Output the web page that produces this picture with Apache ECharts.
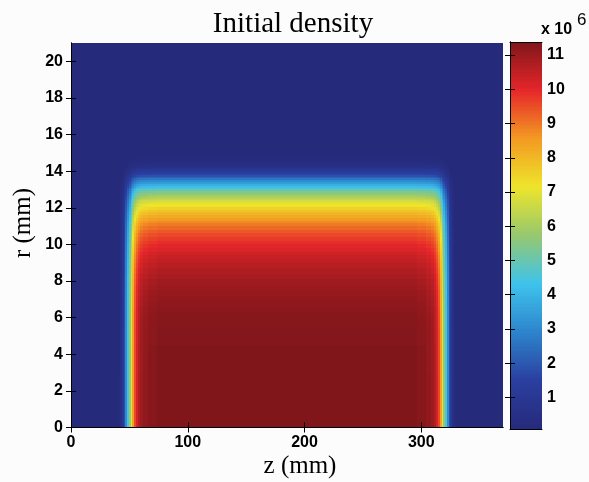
<!DOCTYPE html>
<html><head><meta charset="utf-8">
<script src="https://cdn.jsdelivr.net/npm/echarts@6/dist/echarts.min.js"></script>
<style>html,body{margin:0;padding:0;background:#fcfcfd}#c{width:589px;height:482px}</style>
</head><body><div id="c"></div>
<script>
// Radial profile read along the axis centre: band edges r (mm) and density (x1e6) in each band
const rEdges = [0,3,4.5,5.5,6,6.3,6.6,6.9,7.2,7.5,7.8,8.1,8.4,8.7,9.0,9.2,9.4,9.6,9.8,10.0,10.2,10.4,10.6,10.8,11.0,11.15,11.3,11.45,11.6,11.75,11.9,12.05,12.2,12.3,12.4,12.5,12.6,12.7,12.8,12.9,13.0,13.1,13.2,13.3,13.4,13.5,13.6,13.7,13.8,13.9,14.0,14.1,14.2,14.3,14.4,14.55,14.7,14.9,21];
const rDensity = [11.38,11.36,11.33,11.3,11.27,11.23,11.19,11.14,11.08,11.01,10.93,10.84,10.73,10.61,10.5,10.4,10.28,10.15,10.02,9.88,9.72,9.55,9.36,9.15,8.95,8.75,8.52,8.28,8.03,7.77,7.5,7.2,6.95,6.72,6.48,6.22,5.95,5.65,5.32,4.98,4.62,4.25,3.86,3.46,3.06,2.66,2.27,1.9,1.55,1.24,0.96,0.73,0.54,0.39,0.26,0.17,0.11,0.08];
// Axial profile: band edges z (mm) and relative fill factor in each band
const zEdges = [0,40,42,43.5,45,46.5,48,49.5,51,52.5,54,55.5,57,59,62,66,74,296,304,308,311,313,314.5,316,317.5,319,320.5,322,323.5,325,326.5,328,330,370];
const zFactor = [0,0.01,0.04,0.09,0.16,0.27,0.39,0.5,0.62,0.74,0.84,0.9,0.94,0.965,0.98,0.992,1,0.992,0.98,0.965,0.94,0.9,0.84,0.74,0.62,0.5,0.39,0.27,0.16,0.09,0.04,0.01,0];
const backgroundDensity = 0.08;
// Axis ticks
const zTicks = [0,100,200,300];
const rTicks = [0,2,4,6,8,10,12,14,16,18,20];
const cbTicks = [1,2,3,4,5,6,7,8,9,10,11];
const zMax = 370, rMax = 21, cbMin = 0.08, cbMax = 11.38;
const jet = ['#262a7b','#2a3fa0','#2d84cc','#3ec3ec','#96c86f','#eee52b','#f39a22','#e6262a','#80161a'];

// Build cell table: [z0, z1, r0, r1, density]
const cells = [];
for (let i = 0; i < zFactor.length; i++) {
  for (let j = 0; j < rDensity.length; j++) {
    cells.push([zEdges[i], zEdges[i+1], rEdges[j], rEdges[j+1], Math.max(backgroundDensity, rDensity[j] * zFactor[i])]);
  }
}
const cbCells = [];
for (let v = cbMin; v < cbMax - 1e-9; v += 0.04) {
  const v1 = Math.min(v + 0.04, cbMax);
  cbCells.push([0, 1, v, v1, (v + v1) / 2]);
}

function rectItem(params, api) {
  const a = api.coord([api.value(0), api.value(3)]);
  const b = api.coord([api.value(1), api.value(2)]);
  const x0 = Math.round(a[0]), y0 = Math.round(a[1]), x1 = Math.round(b[0]), y1 = Math.round(b[1]);
  return { type: 'rect', shape: { x: x0, y: y0, width: x1 - x0, height: y1 - y0 }, style: { fill: api.visual('color') } };
}

const tickFont = { color: '#000', fontWeight: 'bold', fontSize: 16, fontFamily: '"Liberation Sans", Arial, sans-serif' };
const line = { show: true, lineStyle: { color: '#000', width: 1 } };
function tick(vals) { return { show: true, inside: true, length: 5, customValues: vals, lineStyle: { color: '#000', width: 1 } }; }

const chart = echarts.init(document.getElementById('c'), null, { renderer: 'canvas' });
chart.setOption({
  backgroundColor: '#fcfcfd',
  animation: false,
  grid: [
    { left: 71, top: 43, width: 432, height: 384.5 },
    { left: 510, top: 42, width: 32, height: 387 }
  ],
  xAxis: [
    { gridIndex: 0, type: 'value', min: 0, max: zMax, position: 'bottom', z: 10, axisLine: line, axisTick: tick(zTicks),
      axisLabel: Object.assign({ customValues: zTicks, margin: 7 }, tickFont), splitLine: { show: false } },
    { gridIndex: 0, type: 'value', min: 0, max: zMax, position: 'top', z: 10, axisLine: line, axisTick: tick(zTicks),
      axisLabel: { show: false }, splitLine: { show: false } },
    { gridIndex: 1, type: 'value', min: 0, max: 1, position: 'bottom', z: 10, axisLine: line, axisTick: { show: false }, axisLabel: { show: false }, splitLine: { show: false } },
    { gridIndex: 1, type: 'value', min: 0, max: 1, position: 'top', z: 10, axisLine: line, axisTick: { show: false }, axisLabel: { show: false }, splitLine: { show: false } }
  ],
  yAxis: [
    { gridIndex: 0, type: 'value', min: 0, max: rMax, position: 'left', z: 10, axisLine: line, axisTick: tick(rTicks),
      axisLabel: Object.assign({ customValues: rTicks, margin: 8 }, tickFont), splitLine: { show: false } },
    { gridIndex: 0, type: 'value', min: 0, max: rMax, position: 'right', z: 10, axisLine: line, axisTick: tick(rTicks),
      axisLabel: { show: false }, splitLine: { show: false } },
    { gridIndex: 1, type: 'value', min: cbMin, max: cbMax, position: 'right', z: 10, axisLine: line, axisTick: tick(cbTicks),
      axisLabel: Object.assign({ customValues: cbTicks, margin: 5 }, tickFont), splitLine: { show: false } },
    { gridIndex: 1, type: 'value', min: cbMin, max: cbMax, position: 'left', z: 10, axisLine: line, axisTick: tick(cbTicks),
      axisLabel: { show: false }, splitLine: { show: false } }
  ],
  visualMap: {
    type: 'continuous', show: false, min: cbMin, max: cbMax, dimension: 4, seriesIndex: [0, 1],
    inRange: { color: jet }
  },
  series: [
    { type: 'custom', xAxisIndex: 0, yAxisIndex: 0, clip: true, renderItem: rectItem,
      encode: { x: [0, 1], y: [2, 3] }, data: cells, silent: true },
    { type: 'custom', xAxisIndex: 2, yAxisIndex: 2, clip: true, renderItem: rectItem,
      encode: { x: [0, 1], y: [2, 3] }, data: cbCells, silent: true }
  ],
  graphic: [
    { type: 'text', x: 293, y: 24, style: { text: 'Initial density', font: '29px "Liberation Serif", "Times New Roman", serif', fill: '#000', align: 'center', verticalAlign: 'middle' } },
    { type: 'text', x: 300, y: 466, style: { text: 'z (mm)', font: '25px "Liberation Serif", "Times New Roman", serif', fill: '#000', align: 'center', verticalAlign: 'middle' } },
    { type: 'text', x: 23, y: 223, rotation: Math.PI / 2, style: { text: 'r (mm)', font: '25px "Liberation Serif", "Times New Roman", serif', fill: '#000', align: 'center', verticalAlign: 'middle' } },
    { type: 'text', x: 541, y: 38, style: { text: 'x 10', font: 'bold 16px "Liberation Sans", Arial, sans-serif', fill: '#000', align: 'left', verticalAlign: 'bottom' } },
    { type: 'text', x: 577, y: 29, style: { text: '6', font: '17px "Liberation Sans", Arial, sans-serif', fill: '#000', align: 'left', verticalAlign: 'bottom' } }
  ]
});
</script>
</body></html>
